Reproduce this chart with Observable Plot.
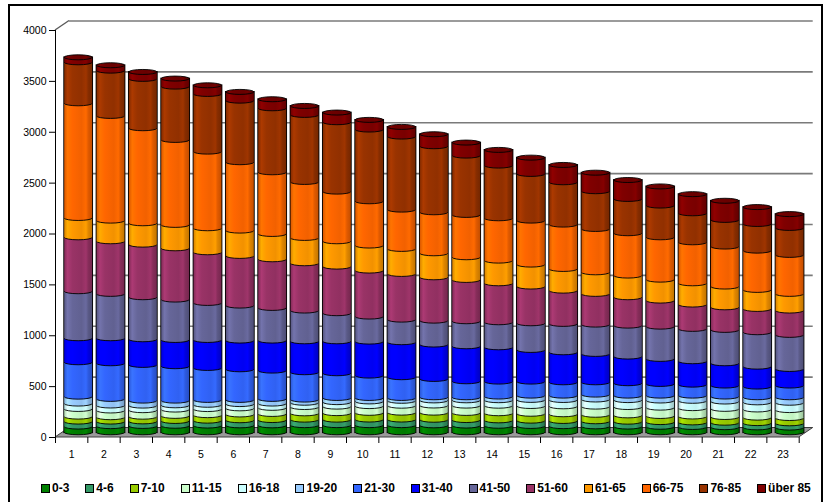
<!DOCTYPE html>
<html>
<head>
<meta charset="utf-8">
<script src="https://cdn.jsdelivr.net/npm/d3@7"></script>
<script src="https://cdn.jsdelivr.net/npm/@observablehq/plot@0.6"></script>
<style>
  body { margin: 0; background: #fff; font-family: "Liberation Sans", Arial, sans-serif; }
  #wrap { position: relative; width: 827px; height: 502px; overflow: hidden; }
  #chart { position: absolute; left: 0; top: 0; }
  #border { position: absolute; left: 8px; top: 4px; width: 815px; height: 600px; border: 2px solid #000; box-sizing: border-box; pointer-events: none; }
  #legend { position: absolute; left: 41px; top: 481px; display: flex; align-items: center; gap: 16px; font-weight: bold; font-size: 12px; white-space: nowrap; }
  #legend .item { display: flex; align-items: center; gap: 2px; }
  #legend .sw { width: 7px; height: 7px; border: 1px solid #000; }
</style>
</head>
<body>
<div id="wrap">
  <div id="chart"></div>
  <div id="legend"></div>
  <div id="border"></div>
</div>
<script>
// Categories along the x axis
const categories = [1, 2, 3, 4, 5, 6, 7, 8, 9, 10, 11, 12, 13, 14, 15, 16, 17, 18, 19, 20, 21, 22, 23];

// Age groups (stack order, bottom to top)
const ageGroups = ["0-3", "4-6", "7-10", "11-15", "16-18", "19-20", "21-30", "31-40", "41-50", "51-60", "61-65", "66-75", "76-85", "über 85"];

// Values per age group, one entry per category
const a0_3   = [56, 60, 62, 64, 66, 68, 68, 70, 70, 70, 70, 68, 66, 64, 62, 60, 58, 56, 54, 52, 50, 48, 46];
const a4_6   = [49, 45, 45, 47, 48, 50, 52, 54, 54, 55, 55, 55, 54, 53, 52, 51, 50, 48, 46, 45, 44, 42, 42];
const a7_10  = [49, 43, 46, 50, 54, 57, 60, 62, 64, 66, 68, 70, 70, 70, 68, 66, 64, 62, 60, 58, 56, 54, 52];
const a11_15 = [75, 66, 64, 62, 60, 60, 60, 62, 64, 66, 68, 70, 72, 74, 76, 78, 80, 82, 82, 82, 80, 80, 78];
const a16_18 = [53, 49, 45, 42, 42, 42, 42, 42, 44, 46, 48, 50, 52, 54, 60, 62, 70, 68, 70, 72, 72, 70, 72];
const a19_20 = [68, 65, 49, 46, 48, 41, 46, 31, 41, 34, 28, 31, 30, 36, 42, 43, 48, 44, 48, 51, 49, 50, 54];
const a21_30 = [338, 350, 351, 338, 314, 301, 278, 269, 243, 220, 204, 180, 157, 147, 138, 131, 121, 122, 115, 108, 108, 105, 115];
const a31_40 = [236, 246, 252, 258, 275, 282, 295, 304, 314, 334, 344, 338, 344, 337, 311, 295, 279, 262, 246, 230, 219, 196, 163];
const a41_50 = [462, 436, 413, 397, 364, 344, 321, 302, 276, 246, 222, 235, 246, 246, 262, 279, 288, 304, 317, 318, 328, 338, 335];
const a51_60 = [530, 517, 517, 504, 498, 488, 478, 465, 458, 452, 449, 426, 406, 383, 361, 327, 302, 279, 256, 239, 222, 229, 239];
const a61_65 = [190, 203, 210, 230, 236, 249, 249, 249, 249, 246, 246, 236, 223, 223, 216, 213, 212, 213, 206, 209, 204, 187, 164];
const a66_75 = [1127, 1029, 934, 835, 753, 672, 606, 550, 488, 435, 386, 403, 416, 416, 432, 436, 426, 416, 416, 403, 393, 386, 383];
const a76_85 = [403, 445, 485, 524, 567, 605, 629, 659, 682, 705, 718, 649, 583, 518, 459, 416, 371, 337, 312, 285, 262, 262, 265];
const a85up  = [49, 53, 68, 79, 85, 86, 89, 88, 95, 95, 95, 118, 128, 154, 160, 170, 182, 186, 188, 188, 188, 166, 136];

const seriesValues = [a0_3, a4_6, a7_10, a11_15, a16_18, a19_20, a21_30, a31_40, a41_50, a51_60, a61_65, a66_75, a76_85, a85up];

// Fill colours for the age groups
const palette = ["#008000", "#339966", "#99cc00", "#ccffcc", "#ccffff", "#99ccff", "#3366ff", "#0000ff", "#666699", "#993366", "#ff9900", "#ff6600", "#993300", "#800000"];

// Y axis tick values
const yTicks = [0, 500, 1000, 1500, 2000, 2500, 3000, 3500, 4000];

// Stacked rows: each segment runs from y1 to y2 within its category
const rows = [];
categories.forEach((c, i) => {
  let acc = 0;
  seriesValues.forEach((vals, s) => {
    rows.push({cat: c, lo: c - 0.5, hi: c + 0.5, s, y1: acc, y2: acc + vals[i]});
    acc += vals[i];
  });
});
const totals = categories.map((c, i) => ({cat: c, lo: c - 0.5, hi: c + 0.5, total: d3.sum(seriesValues, v => v[i])}));
const boundaries = [...categories.map(c => c - 0.5), categories[categories.length - 1] + 0.5];

// Depth offset of the cylinders (they stand in the middle of the floor)
const depth = {dx: 14, dy: -9.5};
const cyl = {x1: "lo", x2: "hi", insetLeft: 2.2, insetRight: 2.2, dx: depth.dx / 2, dy: depth.dy / 2};
const capR = 2.5;

const segmentMarks = [];
ageGroups.forEach((g, s) => {
  const data = rows.filter(r => r.s === s);
  const fill = `url(#cyl-${s})`;
  // rounded base of the segment (its lower arc is the visible seam)
  segmentMarks.push(Plot.rect(data, {...cyl, y1: "y1", y2: "y1", insetTop: -capR, insetBottom: -capR, rx: 40, ry: 40, fill, stroke: "#000", strokeWidth: 0.9}));
  // body of the segment
  segmentMarks.push(Plot.rect(data, {...cyl, y1: "y1", y2: "y2", fill}));
});

const chart = Plot.plot({
  width: 827,
  height: 470,
  marginLeft: 55,
  marginRight: 28.3,
  marginTop: 30,
  marginBottom: 33,
  style: {fontFamily: "'Liberation Sans', Arial, sans-serif", fontSize: "10.5px", color: "#000", background: "transparent", overflow: "visible"},
  x: {domain: [0.5, 23.5], axis: null},
  y: {domain: [0, 4000], ticks: yTicks, tickSize: 6, tickPadding: 3, tickFormat: d => String(d), label: null},
  marks: [
    // gridlines on the back wall
    Plot.ruleY(yTicks.filter(v => v > 0), {...depth, stroke: "#7a7a7a", strokeWidth: 1.6}),
    // value axis line
    Plot.ruleX([0.5], {stroke: "#000", strokeWidth: 1}),
    // category separators below the floor
    Plot.ruleX(boundaries, {y1: 0, y2: 0, insetBottom: -6, stroke: "#000", strokeWidth: 1}),
    // category labels below the floor
    Plot.text(categories, {x: d => d, y: 0, dy: 17, fill: "#000"}),
    // cylinder outlines
    Plot.rect(totals, {...cyl, y1: 0, y2: "total", fill: "none", stroke: "#000", strokeWidth: 1.8}),
    ...segmentMarks,
    // top faces
    Plot.rect(totals, {...cyl, y1: "total", y2: "total", insetTop: -capR, insetBottom: -capR, rx: 40, ry: 40, fill: "url(#cap)", stroke: "#000", strokeWidth: 0.9})
  ]
});

// Gradients giving the cylinders their rounded shading
const svg = d3.select(chart);
const defs = svg.insert("defs", ":first-child");
function addGradient(id, base) {
  const c = d3.color(base);
  const lg = defs.append("linearGradient").attr("id", id).attr("x1", 0).attr("x2", 1).attr("y1", 0).attr("y2", 0);
  const stops = [
    [0, c.darker(0.45)], [0.12, c.brighter(0.35)], [0.22, c.brighter(0.15)], [0.3, c],
    [0.62, c.darker(0.15)], [0.78, c.brighter(0.1)], [0.86, c.darker(0.35)], [1, c.darker(0.75)]
  ];
  stops.forEach(([o, col]) => lg.append("stop").attr("offset", o).attr("stop-color", col.formatHex()));
}
palette.forEach((col, i) => addGradient(`cyl-${i}`, col));
addGradient("cap", "#6e0000");

// Floor and wall edge, placed with the plot's own scales
const sx = chart.scale("x"), sy = chart.scale("y");
const X = d3.scaleLinear(sx.domain, sx.range);
const Y = d3.scaleLinear(sy.domain, sy.range);
const x0 = X(0.5), x1 = X(23.5), yb = Y(0), yt = Y(4000);
const floor = svg.insert("g", "g");
floor.append("path")
  .attr("d", `M${x0},${yb}L${x1},${yb}L${x1 + depth.dx},${yb + depth.dy}L${x0 + depth.dx},${yb + depth.dy}Z`)
  .attr("fill", "#9a9a9a").attr("stroke", "#3c3c3c").attr("stroke-width", 1);
floor.append("path")
  .attr("d", `M${x0},${yt}L${x0 + depth.dx},${yt + depth.dy}`)
  .attr("stroke", "#5a5a5a").attr("stroke-width", 1.4).attr("fill", "none");

document.getElementById("chart").appendChild(chart);

// Legend
const legend = d3.select("#legend");
ageGroups.forEach((g, i) => {
  const item = legend.append("div").attr("class", "item");
  item.append("span").attr("class", "sw").style("background", palette[i]);
  item.append("span").text(g);
});
</script>
</body>
</html>
